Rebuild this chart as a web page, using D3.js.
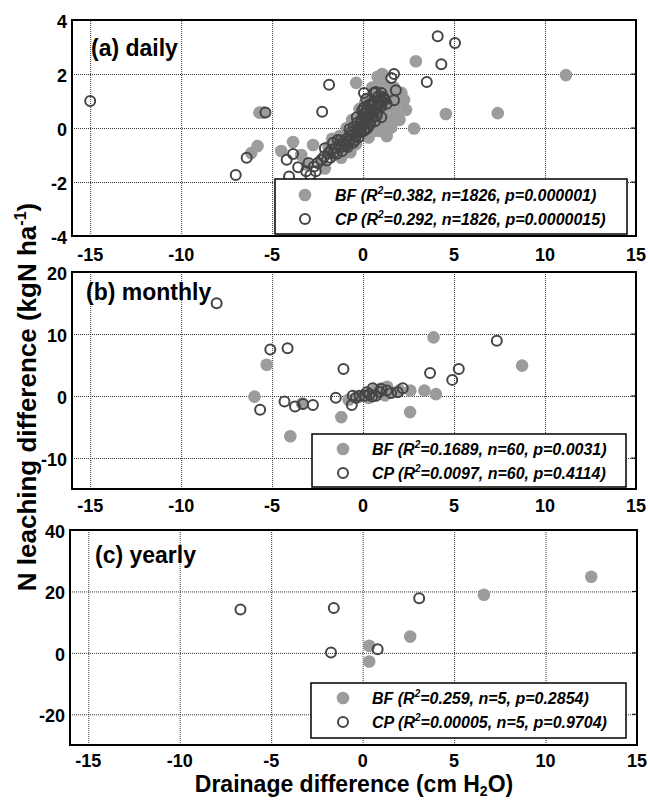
<!DOCTYPE html>
<html>
<head>
<meta charset="utf-8">
<script src="https://cdn.jsdelivr.net/npm/d3@7"></script>
<style>
  body { margin: 0; background: #fff; }
  svg { display: block; font-family: Arial, "Liberation Sans", sans-serif; }
</style>
</head>
<body>
<svg id="chart" width="648" height="800"></svg>
<script>
var width = 648;
var height = 800;

// x ticks shared by the three panels
var xTicks = [-15, -10, -5, 0, 5, 10, 15];
var dailyYTicks = [-4, -2, 0, 2, 4];
var monthlyYTicks = [-10, 0, 10, 20];
var yearlyYTicks = [-20, 0, 20, 40];

// (a) daily - [drainage diff, N leaching diff]
var dailyBF = [
  [11.15, 1.96], [7.4, 0.55], [4.55, 0.52], [2.9, 2.47], [2.8, -0.02], [2.36, 0.67],
  [2.25, 1.04], [1.55, 0.02], [1.26, -0.12], [0.6, 0.04], [0.9, -0.1], [-0.38, 1.67],
  [0.8, 1.9], [1.05, 2.0], [0.95, 1.7], [-5.7, 0.57], [-5.5, 0.57], [-5.8, -0.67],
  [-6.15, -0.93], [-3.85, -0.52], [-4.5, -0.85], [-2.75, -0.63], [-3.4, -1.0],
  [-2.3, -1.25], [-1.45, -0.5], [-1.3, -0.3], [-3.1, -1.35], [-1.0, -0.7], [-0.8, -0.3],
  [-0.6, -0.5], [-0.5, 0.1], [-0.3, -0.3], [-0.2, 0.3], [-0.1, -0.1], [0.0, 0.4],
  [0.1, 0.0], [0.2, 0.6], [0.3, 0.1], [0.4, 0.8], [0.5, 0.3], [0.6, 1.0], [0.7, 0.4],
  [0.8, 1.2], [0.9, 0.6], [1.0, 1.4], [1.1, 0.5], [1.2, 0.9], [1.3, 1.3], [1.4, 0.3],
  [1.5, 0.8], [1.6, 1.1], [1.8, 0.6], [2.0, 0.3], [0.3, 1.1], [0.1, 0.9], [-0.2, 0.7],
  [0.5, 1.5], [1.2, 1.6], [-1.6, -1.0], [-1.9, -0.7], [-2.1, -1.5], [-1.2, -1.1],
  [-0.7, -0.9], [-0.4, -0.6], [0.2, -0.2], [1.7, 1.5], [2.1, 1.3], [1.0, 0.1],
  [0.7, -0.1], [-0.1, 0.5], [0.4, -0.1], [-0.9, 0.0], [-0.6, 0.3], [0.3, -0.35],
  [1.3, -0.3], [1.9, 1.0], [-1.7, -0.4]
];
var dailyCP = [
  [-15, 1.0], [-5.37, 0.57], [-6.4, -1.1], [-7.0, -1.74], [-1.87, 1.6], [-2.25, 0.6],
  [4.1, 3.4], [5.05, 3.15], [4.3, 2.36], [3.5, 1.7], [1.7, 2.0], [1.55, 1.85], [1.8, 1.4],
  [1.7, 1.03], [0.05, 1.3], [0.17, 1.07], [0.6, 1.3], [1.0, 1.3], [1.15, 1.1], [0.7, 1.33],
  [1.1, 1.15], [-4.2, -1.18], [-3.85, -0.96], [-4.07, -1.8], [-3.57, -1.45], [-3.13, -1.6],
  [-2.7, -1.43], [-2.5, -1.3], [-2.3, -1.18], [-2.15, -1.06], [-1.9, -0.93], [-1.75, -0.81],
  [-1.6, -0.93], [-1.4, -0.44], [-3.0, -1.3], [-2.0, -1.2], [-1.8, -1.1], [-2.6, -1.6],
  [-2.9, -1.75], [-1.5, -0.75], [-1.3, -0.62], [-1.2, -0.7], [-1.1, -0.5], [-1.0, -0.6],
  [-0.9, -0.4], [-0.8, -0.5], [-0.7, -0.3], [-0.6, -0.4], [-0.5, -0.2], [-0.4, -0.3],
  [-0.3, -0.1], [-0.2, 0.0], [-0.1, -0.15], [0.0, 0.1], [0.05, -0.1], [0.1, 0.2],
  [0.2, 0.35], [0.3, 0.2], [0.35, 0.5], [0.4, 0.45], [0.5, 0.4], [0.55, 0.65], [0.6, 0.6],
  [0.7, 0.75], [0.8, 0.6], [0.85, 0.9], [0.9, 0.85], [1.0, 0.8], [1.05, 1.0], [1.2, 1.05],
  [-0.1, 0.3], [0.0, 0.5], [0.2, 0.7], [0.3, 0.85], [0.1, 0.4], [-0.3, 0.2], [0.45, 0.9],
  [0.6, 1.0], [0.15, -0.05], [-0.05, 0.65], [0.25, 0.0], [1.0, 0.4],
  [-1.25, -0.45], [-0.95, -0.65], [-0.65, -0.15], [-0.45, -0.45], [-0.15, 0.15],
  [0.05, 0.75], [0.4, 0.15], [0.75, 0.45], [0.95, 1.05], [-0.35, 0.4],
  [-1.45, -0.95], [-1.15, -0.85], [-0.85, -0.7], [-0.55, -0.55], [-0.25, -0.35],
  [-0.75, -0.05], [-0.5, 0.05], [0.15, 0.55], [0.5, 0.85], [0.8, 1.15], [1.3, 0.9],
  [-2.1, -0.75], [-1.65, -0.55], [0.65, 0.25]
];

// (b) monthly
var monthlyBF = [
  [3.87, 9.45], [8.74, 4.9], [-5.3, 5.05], [-5.97, -0.1], [-4.0, -6.5], [-3.35, -1.2],
  [-1.2, -3.4], [2.58, -2.6], [4.0, 0.3], [3.37, 0.86], [2.6, 0.86], [1.32, 1.5],
  [1.0, 1.2], [0.5, 0.5], [0.2, 0.2], [0.8, 0.4], [1.5, 0.6], [2.0, 0.9], [-0.3, -0.2],
  [0.0, 0.0], [0.3, -0.3], [1.2, 0.1], [-0.8, -0.6], [0.6, 0.9]
];
var monthlyCP = [
  [-8.05, 14.95], [-5.1, 7.5], [-4.15, 7.7], [-5.66, -2.2], [-4.32, -0.9], [-3.74, -1.7],
  [-3.3, -1.3], [-2.76, -1.45], [-1.5, -0.3], [-1.08, 4.35], [-0.62, -1.45], [-0.57, 0.05],
  [-0.2, 0.05], [0.07, 0.05], [0.35, 0.3], [0.53, 1.24], [0.71, 0.05], [1.0, 1.13],
  [1.54, 0.5], [1.9, 0.6], [2.18, 1.24], [3.68, 3.7], [5.26, 4.35], [4.9, 2.6],
  [7.35, 8.9], [0.2, 0.6], [0.9, 0.7], [1.3, 0.9], [-0.4, -0.3], [0.5, -0.1]
];

// (c) yearly
var yearlyBF = [[12.5, 24.8], [6.63, 18.9], [2.6, 5.3], [0.36, 2.3], [0.36, -2.8]];
var yearlyCP = [[-6.68, 14.1], [-1.58, 14.6], [-1.73, 0.1], [3.09, 17.8], [0.82, 1.2]];

// legend statistics
var dailyStats = [["BF", "0.382", "1826", "0.000001"], ["CP", "0.292", "1826", "0.0000015"]];
var monthlyStats = [["BF", "0.1689", "60", "0.0031"], ["CP", "0.0097", "60", "0.4114"]];
var yearlyStats = [["BF", "0.259", "5", "0.2854"], ["CP", "0.00005", "5", "0.9704"]];

var svg = d3.select("#chart");
var fillGray = "#9c9c9c";
var openStroke = "#454545";

function drawPanel(p) {
    var x = d3.scaleLinear().domain([-16, 15]).range([p.left, p.right]);
    var y = d3.scaleLinear().domain(p.yDomain).range([p.bottom, p.top]);
    var g = svg.append("g");

    // dotted grid
    g.append("g")
        .attr("transform", "translate(0," + p.bottom + ")")
        .call(d3.axisBottom(x).tickValues(xTicks.slice(0, -1)).tickSize(-(p.bottom - p.top)).tickFormat(""))
        .call(function (s) { s.select(".domain").remove(); })
        .selectAll("line").attr("stroke", "#333").attr("stroke-dasharray", "1,1");
    g.append("g")
        .attr("transform", "translate(" + p.left + ",0)")
        .call(d3.axisLeft(y).tickValues(p.yTicks.filter(function (t) { return t < p.yDomain[1]; })).tickSize(-(p.right - p.left)).tickFormat(""))
        .call(function (s) { s.select(".domain").remove(); })
        .selectAll("line").attr("stroke", "#333").attr("stroke-dasharray", "1,1");

    // small inward ticks on the right edge
    g.selectAll(".rtick").data(p.yTicks).enter().append("line")
        .attr("x1", p.right - 5).attr("x2", p.right)
        .attr("y1", function (d) { return y(d); }).attr("y2", function (d) { return y(d); })
        .attr("stroke", "#000").attr("stroke-width", 1);

    // points
    g.selectAll(".bf").data(p.bf).enter().append("circle")
        .attr("cx", function (d) { return x(d[0]); })
        .attr("cy", function (d) { return y(d[1]); })
        .attr("r", 6.3)
        .attr("fill", fillGray);
    g.selectAll(".cp").data(p.cp).enter().append("circle")
        .attr("cx", function (d) { return x(d[0]); })
        .attr("cy", function (d) { return y(d[1]); })
        .attr("r", 5)
        .attr("fill", "none")
        .attr("stroke", openStroke)
        .attr("stroke-width", 2);

    // frame
    g.append("rect")
        .attr("x", p.left).attr("y", p.top)
        .attr("width", p.right - p.left).attr("height", p.bottom - p.top)
        .attr("fill", "none").attr("stroke", "#000").attr("stroke-width", 2);

    // tick labels (plain text so the hyphen minus and bold weight stay as drawn)
    g.selectAll(".xlab").data(xTicks).enter().append("text")
        .attr("x", function (d) { return x(d); })
        .attr("y", p.bottom + p.xPad)
        .attr("text-anchor", "middle")
        .attr("font-size", 18).attr("font-weight", "bold")
        .text(function (d) { return String(d); });
    g.selectAll(".ylab").data(p.yTicks).enter().append("text")
        .attr("x", p.left - 5)
        .attr("y", function (d) { return y(d) + 8; })
        .attr("text-anchor", "end")
        .attr("font-size", 18).attr("font-weight", "bold")
        .text(function (d) { return String(d); });

    // panel title
    g.append("text")
        .attr("x", p.titleX).attr("y", p.titleY)
        .attr("font-size", 23).attr("font-weight", "bold")
        .text(p.title);

    // legend
    var L = p.legend;
    g.append("rect")
        .attr("x", L.x).attr("y", L.y).attr("width", L.w).attr("height", L.h)
        .attr("fill", "#fff").attr("stroke", "#000").attr("stroke-width", 1.5);
    p.stats.forEach(function (s, i) {
        var cy = L.y + L.row0 + i * 24;
        if (i === 0) {
            g.append("circle").attr("cx", L.mx).attr("cy", cy).attr("r", 6.3).attr("fill", fillGray);
        } else {
            g.append("circle").attr("cx", L.mx).attr("cy", cy).attr("r", 5)
                .attr("fill", "none").attr("stroke", openStroke).attr("stroke-width", 2);
        }
        var t = g.append("text")
            .attr("x", L.tx).attr("y", cy + 6)
            .attr("font-size", 16).attr("font-weight", "bold").attr("font-style", "italic");
        t.append("tspan").text(s[0] + " (R");
        t.append("tspan").attr("dy", -7).attr("font-size", 10).text("2");
        t.append("tspan").attr("dy", 7).text("=" + s[1] + ", n=" + s[2] + ", p=" + s[3] + ")");
    });
}

drawPanel({
    left: 72, right: 636, top: 20, bottom: 236, yDomain: [-4, 4], yTicks: dailyYTicks,
    bf: dailyBF, cp: dailyCP, stats: dailyStats, xPad: 25,
    title: "(a) daily", titleX: 91, titleY: 56,
    legend: { x: 275, y: 179, w: 352, h: 55, row0: 16, mx: 305, tx: 335 }
});
drawPanel({
    left: 72, right: 636, top: 272, bottom: 489, yDomain: [-15, 20], yTicks: monthlyYTicks,
    bf: monthlyBF, cp: monthlyCP, stats: monthlyStats, xPad: 23,
    title: "(b) monthly", titleX: 86, titleY: 300,
    legend: { x: 312, y: 434, w: 314, h: 53, row0: 15, mx: 343, tx: 372 }
});
drawPanel({
    left: 70, right: 637, top: 530, bottom: 745, yDomain: [-30, 40], yTicks: yearlyYTicks,
    bf: yearlyBF, cp: yearlyCP, stats: yearlyStats, xPad: 22,
    title: "(c) yearly", titleX: 95, titleY: 563,
    legend: { x: 311, y: 683, w: 315, h: 55, row0: 15, mx: 343, tx: 372 }
});

// axis titles
var xt = svg.append("text")
    .attr("x", 354).attr("y", 792)
    .attr("text-anchor", "middle")
    .attr("font-size", 23).attr("font-weight", "bold");
xt.append("tspan").text("Drainage difference (cm H");
xt.append("tspan").attr("dy", 4).attr("font-size", 14).text("2");
xt.append("tspan").attr("dy", -4).text("O)");

var yt = svg.append("text")
    .attr("transform", "translate(36,397) rotate(-90)")
    .attr("text-anchor", "middle")
    .attr("font-size", 26).attr("font-weight", "bold");
yt.append("tspan").text("N leaching difference (kgN ha");
yt.append("tspan").attr("dy", -10).attr("font-size", 16).text("-1");
yt.append("tspan").attr("dy", 10).text(")");
</script>
</body>
</html>
